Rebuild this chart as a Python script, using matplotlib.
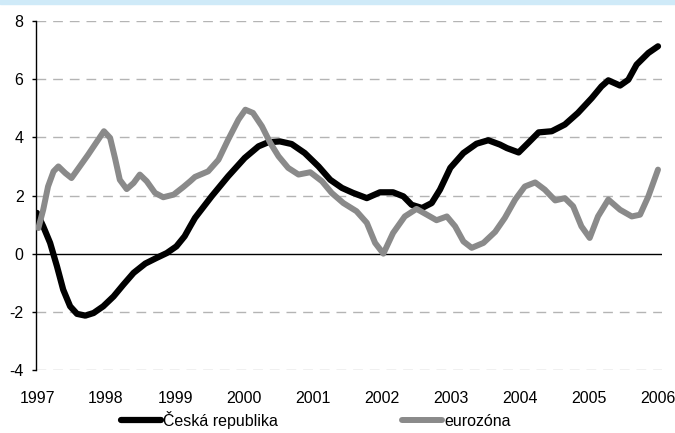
import matplotlib
matplotlib.use("Agg")
import matplotlib.pyplot as plt
from matplotlib.patches import Rectangle

# Decimal-year positions and values of the two series
cz_years = [1997.00, 1997.09, 1997.19, 1997.29, 1997.38, 1997.48, 1997.58, 1997.70,
            1997.82, 1997.96, 1998.11, 1998.25, 1998.40, 1998.57, 1998.73, 1998.88,
            1999.02, 1999.14, 1999.22, 1999.29, 1999.53, 1999.77, 2000.01, 2000.21,
            2000.35, 2000.52, 2000.69, 2000.88, 2001.08, 2001.25, 2001.42, 2001.58,
            2001.78, 2001.97, 2002.16, 2002.31, 2002.43, 2002.58, 2002.72, 2002.84,
            2002.99, 2003.18, 2003.37, 2003.54, 2003.71, 2003.81, 2003.98, 2004.12,
            2004.27, 2004.46, 2004.65, 2004.84, 2005.04, 2005.18, 2005.28, 2005.45,
            2005.57, 2005.69, 2005.86, 2006.00]
cz_values = [1.40, 0.94, 0.37, -0.44, -1.24, -1.81, -2.07, -2.13,
             -2.04, -1.81, -1.47, -1.07, -0.66, -0.34, -0.15, 0.02,
             0.25, 0.60, 0.94, 1.23, 1.97, 2.66, 3.29, 3.69,
             3.83, 3.86, 3.77, 3.46, 3.00, 2.54, 2.26, 2.09,
             1.91, 2.11, 2.11, 1.97, 1.68, 1.57, 1.74, 2.20,
             2.95, 3.46, 3.78, 3.90, 3.75, 3.63, 3.48, 3.81,
             4.17, 4.21, 4.44, 4.84, 5.35, 5.75, 5.96, 5.78,
             5.98, 6.50, 6.90, 7.13]

ez_years = [1997.02, 1997.09, 1997.16, 1997.24, 1997.31, 1997.41, 1997.50, 1997.62,
            1997.74, 1997.87, 1997.97, 1998.06, 1998.13, 1998.20, 1998.30, 1998.40,
            1998.49, 1998.59, 1998.71, 1998.83, 1998.98, 1999.12, 1999.22, 1999.29,
            1999.48, 1999.63, 1999.77, 1999.92, 2000.02, 2000.13, 2000.26, 2000.38,
            2000.50, 2000.64, 2000.79, 2000.96, 2001.13, 2001.27, 2001.44, 2001.63,
            2001.78, 2001.90, 2002.02, 2002.16, 2002.33, 2002.50, 2002.65, 2002.79,
            2002.94, 2003.06, 2003.18, 2003.30, 2003.47, 2003.64, 2003.78, 2003.93,
            2004.07, 2004.22, 2004.36, 2004.51, 2004.65, 2004.77, 2004.89, 2005.01,
            2005.13, 2005.28, 2005.45, 2005.62, 2005.74, 2005.86, 2006.00]
ez_values = [0.88, 1.51, 2.31, 2.83, 3.00, 2.77, 2.60, 3.00,
             3.40, 3.86, 4.21, 3.98, 3.29, 2.54, 2.22, 2.43,
             2.72, 2.49, 2.09, 1.94, 2.03, 2.29, 2.49, 2.64,
             2.83, 3.23, 3.92, 4.61, 4.95, 4.84, 4.38, 3.81,
             3.35, 2.95, 2.72, 2.80, 2.49, 2.09, 1.74, 1.46,
             1.06, 0.37, 0.00, 0.71, 1.28, 1.54, 1.34, 1.15,
             1.28, 0.94, 0.42, 0.20, 0.37, 0.75, 1.23, 1.86,
             2.31, 2.45, 2.20, 1.83, 1.91, 1.63, 0.94, 0.54,
             1.28, 1.86, 1.51, 1.28, 1.34, 1.97, 2.89]

year_ticks = list(range(1997, 2007))
y_ticks = [-4, -2, 0, 2, 4, 6, 8]

plt.rcParams['font.family'] = ['Liberation Sans', 'DejaVu Sans']

fig = plt.figure(figsize=(6.75, 4.33), dpi=100)
fig.patches.append(Rectangle((0, 1 - 4 / 433), 1, 4 / 433, transform=fig.transFigure,
                             color='#cfeaf8', zorder=0))

ax = fig.add_axes([36 / 675, 1 - 370 / 433, (662 - 36) / 675, (370 - 21) / 433])

ax.set_xlim(1997 - 1 / 69, 2006 + 4 / 69)
ax.set_ylim(-4, 8)

for v in y_ticks:
    if v != 0:
        ax.axhline(v, color='#b4b4b4', lw=1.0, ls=(0, (7, 5)), zorder=1)
ax.axhline(0, color='black', lw=1.0, zorder=2)

ax.plot(cz_years, cz_values, color='black', lw=4.5, solid_capstyle='round',
        solid_joinstyle='round', label='Česká republika', zorder=3)
ax.plot(ez_years, ez_values, color='#8a8a8a', lw=4.3, solid_capstyle='round',
        solid_joinstyle='round', label='eurozóna', zorder=4)

for s in ['top', 'right', 'bottom']:
    ax.spines[s].set_visible(False)
ax.spines['left'].set_linewidth(1.0)

ax.set_yticks(y_ticks)
ax.set_yticklabels([str(v) for v in y_ticks], fontsize=11.5)
ax.tick_params(axis='y', length=3, width=1, pad=6)
ax.set_xticks(year_ticks)
ax.set_xticklabels([str(y) for y in year_ticks], fontsize=11.5)
ax.tick_params(axis='x', length=0, pad=15)

fig.legend(loc='center', bbox_to_anchor=(316 / 675, 1 - 420 / 433), ncol=2,
           frameon=False, fontsize=11.5, handlelength=2.5, handletextpad=0.1,
           columnspacing=7.8)

fig.savefig('out.png', dpi=100)
